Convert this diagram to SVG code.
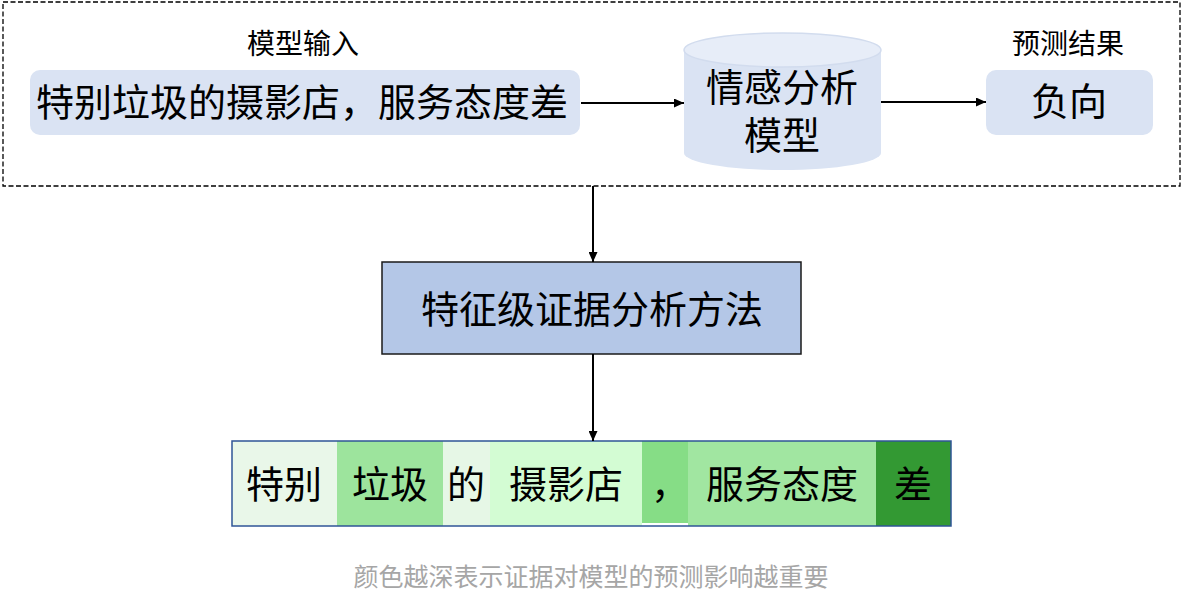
<svg xmlns="http://www.w3.org/2000/svg" width="1183" height="608" viewBox="0 0 1183 608">
<defs>
<marker id="ah" markerWidth="10" markerHeight="9" refX="10" refY="4.5" orient="auto" markerUnits="userSpaceOnUse">
<path d="M0,0 L10,4.5 L0,9 Z" fill="#000"/>
</marker>
<style>
text{font-family:"Noto Sans CJK SC","Liberation Sans",sans-serif;fill:#000;text-anchor:middle}
.big{font-size:38px}
.lab{font-size:28px}
.conn{stroke:#000;stroke-width:2;fill:none;marker-end:url(#ah)}
.soft{fill:#dae3f3}
</style>
</defs>
<rect x="3" y="2" width="1177" height="184" fill="none" stroke="#000" stroke-width="1.3" stroke-dasharray="5,2.5"/>
<g id="input">
<text class="lab" x="303" y="54">模型输入</text>
<rect class="soft" x="30" y="70" width="550" height="65" rx="10"/>
<text class="big" x="302" y="116">特别垃圾的摄影店，服务态度差</text>
</g>
<g id="model">
<path d="M684,50 L684,153 A98.5,17 0 0 0 881,153 L881,50 Z" fill="#dae3f3"/>
<ellipse cx="782.5" cy="50" rx="98.5" ry="17" fill="#e7edf8" stroke="#d2dcee" stroke-width="1.5"/>
<text class="big" x="782" y="101">情感分析</text>
<text class="big" x="782" y="149">模型</text>
</g>
<g id="result">
<text class="lab" x="1068" y="54">预测结果</text>
<rect class="soft" x="986" y="70" width="167" height="65" rx="10"/>
<text class="big" x="1069" y="115">负向</text>
</g>
<g id="method">
<rect x="382" y="262" width="419" height="92" fill="#b4c7e7" stroke="#1a1a1a" stroke-width="1.5"/>
<text class="big" x="592" y="323">特征级证据分析方法</text>
</g>
<g id="evidence">
<rect x="232" y="441" width="105" height="85" fill="#e9f7e9"/>
<rect x="337" y="441" width="106" height="85" fill="#9de49d"/>
<rect x="443" y="441" width="47" height="85" fill="#e6f7e6"/>
<rect x="490" y="441" width="152" height="85" fill="#d3fcd3"/>
<rect x="642" y="441" width="46" height="82" fill="#86dd86"/>
<rect x="688" y="441" width="188" height="85" fill="#a1e6a1"/>
<rect x="876" y="441" width="75" height="85" fill="#339933"/>
<rect x="232" y="441" width="719" height="85" fill="none" stroke="#2f5597" stroke-width="1.5"/>
<text class="big" x="284" y="498">特别</text>
<text class="big" x="390" y="498">垃圾</text>
<text class="big" x="466" y="498">的</text>
<text class="big" x="566" y="498">摄影店</text>
<text class="big" x="670" y="498">，</text>
<text class="big" x="782" y="498">服务态度</text>
<text class="big" x="913" y="498">差</text>
</g>
<g id="connectors">
<line class="conn" x1="581" y1="103" x2="684" y2="103"/>
<line class="conn" x1="881" y1="102" x2="986" y2="102"/>
<line class="conn" x1="593" y1="186" x2="593" y2="262"/>
<line class="conn" x1="593" y1="354" x2="593" y2="441"/>
</g>
<text x="591" y="586" style="font-size:25px;fill:#a6a6a6">颜色越深表示证据对模型的预测影响越重要</text>
</svg>
